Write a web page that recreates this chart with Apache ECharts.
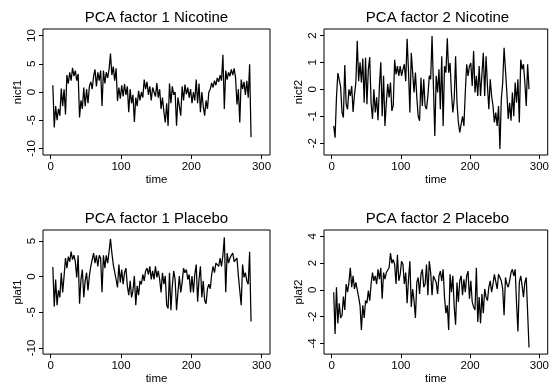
<!DOCTYPE html>
<html>
<head>
<meta charset="utf-8">
<script src="https://cdn.jsdelivr.net/npm/echarts@6/dist/echarts.min.js"></script>
<style>
html,body{margin:0;padding:0;background:#fff;}
#chart{width:552px;height:386px;}
</style>
</head>
<body>
<div id="chart"></div>
<script>
// time index (t = 3, 5, ..., 285)
const time = [];
for (let t = 3; t <= 285; t += 2) time.push(t);

const titles = ['PCA factor 1 Nicotine', 'PCA factor 2 Nicotine', 'PCA factor 1 Placebo', 'PCA factor 2 Placebo'];
const yNames = ['nicf1', 'nicf2', 'plaf1', 'plaf2'];
const xName = 'time';
const xTicks = [0, 100, 200, 300];
const yTicks1 = [-10, -5, 0, 5, 10];
const yTicks2 = [-2, -1, 0, 1, 2];
const yTicks3 = [-10, -5, 0, 5];
const yTicks4 = [-4, -2, 0, 2, 4];

const nicf1 = [
  1.2, -6.3, -2.5, -5.0, -3.0, -4.2, 0.6, -2.5, 0.5, -4.0,
  3.0, 1.5, 3.5, 2.0, 4.3, 2.8, 3.8, 2.0, 3.2, -4.5,
  -1.5, -3.0, 0.8, -2.5, 0.5, -2.0, 1.0, 1.8, 0.5, 2.8,
  4.0, 1.0, 3.5, 2.0, 3.8, -2.5, 3.8, 1.5, 3.5, 2.5,
  4.0, 6.8, 3.0, 4.5, 2.0, 4.2, -1.6, 0.8, -1.2, 1.2,
  -0.8, 1.4, -0.5, 1.0, -3.6, 0.5, -2.0, -0.5, -5.3, -1.0,
  -2.5, 0.2, -1.5, 0.0, -1.0, 2.2, 0.5, 1.8, -0.5, 1.0,
  -1.5, 0.8, 0.5, -0.8, 1.6, -1.0, 0.5, -3.0, -1.0, -3.5,
  -5.4, -2.0, -6.0, 1.5, -2.0, 1.0, -0.5, 0.0, -6.0, -1.0,
  -2.5, -4.2, 1.0, -1.5, 1.3, -0.4, 0.8, -1.0, 0.5, -2.0,
  0.0, -1.5, 2.2, -2.0, 1.5, -3.6, 0.0, -2.5, -4.2, -1.5,
  -3.0, 0.0, 0.5, 1.6, 0.8, 2.0, 1.2, 2.5, 1.8, 3.0,
  2.0, 6.6, -3.0, 3.8, 2.2, 3.5, 2.8, 4.0, 3.0, 4.2,
  2.5, -2.2, 0.5, -5.4, 2.2, 0.5, 1.8, -0.5, 2.0, -1.0,
  4.9, -8.0
];

const nicf2 = [
  -1.36, -1.8, -0.3, 0.6, 0.6, 0.1, -0.86, -1.05, 0.9, -0.55,
  -0.74, 0, -0.25, 0.12, -0.84, -0.2, 0.25, 1.8, 0.3, 1.0,
  0.25, 1.14, -0.5, 1.17, -0.55, 0.74, 1.2, -0.5, -1.1, 0,
  -0.86, -0.3, -1.15, 0.12, 1.0, -1.0, 0.5, -1.36, -0.5, 0.2,
  -0.3, 0.25, -0.8, -0.6, 1.1, 0.55, 0.86, 0.5, 0.86, 0.5,
  0.74, 0.93, 0.3, 1.88, 0.68, -0.86, 1.36, 0.62, -0.12, 0.62,
  -0.3, -1.0, -1.17, 0.43, -0.62, 0.37, -0.62, -0.74, -0.25, 0.5,
  0.37, 1.98, 0.12, -1.73, 0.5, -0.12, 0.74, -0.74, 1.23, -1.36,
  0.86, 0.62, 1.9, 0.62, 0.98, -0.12, -0.86, -0.37, 1.23, -0.5,
  -1.23, -1.6, -1.67, -1.0, -1.36, -0.12, 0.93, 0.5, 0.86, 0.98,
  0.12, 1.42, -0.12, 0.5, -0.25, 0.86, -0.25, 0.55, 1.36, -0.25,
  1.23, 0.12, -0.74, 0.37, -0.25, -0.62, -1.23, -0.86, -1.36, -0.62,
  -2.22, -0.37, 0.25, 1.54, 1.48, -0.12, -1.1, -0.5, -1.17, -0.12,
  -1.0, 0.25, -0.5, 0.37, -1.23, 1.1, 0.74, 0.93, 0.25, -0.62,
  0.93, 0
];

const plaf1 = [
  1.36, -4.2, -0.4, -4.0, -1.9, -2.9, 0.55, -2.2, 0.1, 2.6,
  1.2, 2.8, 2.1, 3.5, 2.4, 3.0, 2.1, -0.1, 3.0, -3.8,
  -0.4, 1.0, -2.9, -0.6, 0.55, -1.95, 0.1, 1.45, 2.4, 3.3,
  1.9, 3.0, 1.45, 3.0, 2.6, -2.2, 3.0, 1.2, 3.0, 1.9,
  3.5, 5.3, 3.3, 1.7, 1.9, -0.4, -1.5, 1.7, -0.8, 1.0,
  -1.05, 0.55, 1.2, -1.3, -2.6, -0.6, -2.9, -1.95, 0.1, -4.0,
  -1.3, -2.6, -0.6, -1.05, 0.3, -0.6, 0.8, 1.2, 0.3, 1.45,
  -0.4, 0.8, -0.4, 1.45, -0.1, 0.8, -0.4, -2.2, 0.55, -1.05,
  0.1, -4.0, -4.45, 0.55, -4.7, -1.3, 0.8, -0.4, -4.7, -2.2,
  0.1, -2.2, -0.8, 1.2, 0.55, 1.0, -0.4, 0.3, -2.2, 0.1,
  -2.2, 0.3, 1.7, -3.5, -0.4, 1.45, -2.9, -0.6, -3.3, -3.8,
  -1.7, -1.05, -1.7, 0.3, 1.45, 0.55, 1.9, 2.1, 1.45, 2.6,
  1.45, 3.0, 5.5, -2.2, 3.3, 1.9, 2.6, 3.0, 3.3, 2.1,
  1.9, 2.6, 0.1, -1.95, -4.0, 1.7, -0.1, 0.55, -0.6, -1.05,
  3.5, -6.3
];

const plaf2 = [
  -0.17, -3.3, 0.2, -2.5, -1.0, -2.1, -1.9, -0.5, -1.5, 0.44,
  -0.17, 0.56, 1.66, 0.2, 1.05, 0.07, 0.56, 0.44, -0.54, -1.15,
  -3.0, -1.15, -2.1, -0.8, -1.0, -0.05, -0.8, 0.44, 1.3, 0.68,
  1.05, 0.44, 1.54, 0.8, 1.66, -0.66, 1.3, 0.8, 1.3, 1.17,
  1.66, 2.76, 2.0, 2.27, 1.9, 0.44, 2.63, 0.68, 1.17, 2.15,
  1.9, 0.44, 1.3, -1.0, 0.8, 2.15, -1.27, 0.07, -0.8, -2.1,
  0.56, 0.93, -0.3, 1.17, 1.54, 0.2, 0.44, 1.9, -0.4, 2.15,
  1.3, -0.4, 1.05, 1.17, 0.56, -0.3, 1.05, 1.41, 0.68, 1.54,
  -0.54, -1.75, -1.15, -3.0, 1.17, -0.17, 1.05, -1.27, -2.6, 0.56,
  -0.9, 0.68, 1.05, -0.4, 0.8, -0.17, 1.05, 1.41, -0.66, 0.68,
  -0.9, -1.27, -1.5, 1.66, -2.4, -0.54, -2.5, -0.3, -1.75, 0.07,
  -0.54, -0.8, 0.2, 0.68, -0.17, 0.44, 1.17, 1.3, 0.07, 1.17,
  0.93, 0.68, 0.07, -1.9, 0.93, 0.44, 0.2, 0.68, 1.3, 1.54,
  1.05, 1.54, -1.0, -3.1, 0.56, 1.05, 0.32, -0.54, 0.56, 0.93,
  0.93, -4.3
];

const FONT = '"Liberation Sans", Arial, Helvetica, sans-serif';
const seriesData = [nicf1, nicf2, plaf1, plaf2];
const yTickSets = [yTicks1, yTicks2, yTicks3, yTicks4];
const yRanges = [[-11.17, 11.17], [-2.44, 2.24], [-10.86, 6.54], [-4.8, 4.48]];
const grids = [
  {left: 43, top: 29, width: 227, height: 126},
  {left: 324, top: 29, width: 227, height: 126},
  {left: 43, top: 230, width: 227, height: 127},
  {left: 324, top: 230, width: 227, height: 127}
];
const titlePos = [[156.5, 10], [437.5, 10], [156.5, 211], [437.5, 211]];

const option = {
  animation: false,
  backgroundColor: '#fff',
  title: titles.map((t, i) => ({
    text: t,
    left: titlePos[i][0],
    top: titlePos[i][1],
    textAlign: 'center',
    padding: 0,
    textStyle: {fontFamily: FONT, fontSize: 15, fontWeight: 'normal', color: '#000'}
  })),
  grid: grids.map(g => Object.assign({show: true, borderColor: '#000', borderWidth: 1, backgroundColor: 'transparent'}, g)),
  xAxis: grids.map((g, i) => ({
    type: 'value',
    gridIndex: i,
    position: 'bottom',
    min: -11,
    max: 312,
    name: xName,
    nameLocation: 'middle',
    nameGap: 16,
    nameTextStyle: {fontFamily: FONT, fontSize: 11.5, color: '#000'},
    axisLine: {show: false, onZero: false},
    splitLine: {show: false},
    axisTick: {show: true, inside: false, length: 4, customValues: xTicks, lineStyle: {color: '#000'}},
    axisLabel: {customValues: xTicks, margin: 6, fontFamily: FONT, fontSize: 11.5, color: '#000'}
  })),
  yAxis: grids.map((g, i) => ({
    type: 'value',
    gridIndex: i,
    position: 'left',
    min: yRanges[i][0],
    max: yRanges[i][1],
    name: yNames[i],
    nameLocation: 'middle',
    nameGap: 19,
    nameTextStyle: {fontFamily: FONT, fontSize: 11.5, color: '#000'},
    axisLine: {show: false, onZero: false},
    splitLine: {show: false},
    axisTick: {show: true, inside: false, length: 4, customValues: yTickSets[i], lineStyle: {color: '#000'}},
    axisLabel: {customValues: yTickSets[i], rotate: 90, margin: 5, fontFamily: FONT, fontSize: 11.5, color: '#000'}
  })),
  series: seriesData.map((d, i) => ({
    type: 'line',
    xAxisIndex: i,
    yAxisIndex: i,
    data: time.map((t, k) => [t, d[k]]),
    showSymbol: false,
    symbol: 'none',
    lineStyle: {color: '#000', width: 1.25},
    silent: true
  }))
};

const chart = echarts.init(document.getElementById('chart'), null, {renderer: 'canvas'});
chart.setOption(option);
</script>
</body>
</html>
